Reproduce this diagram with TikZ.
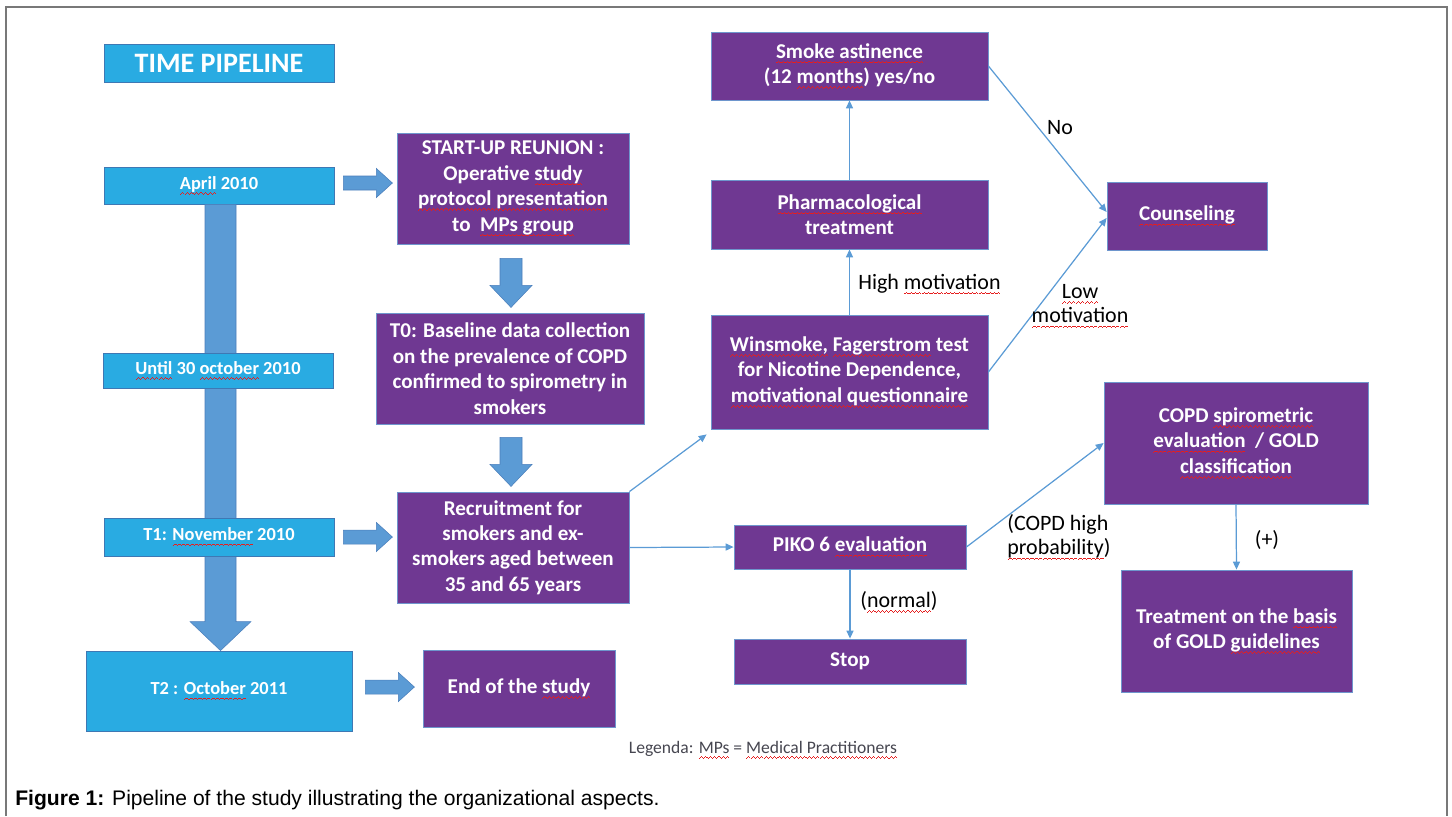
\documentclass[tikz,border=0pt]{standalone}
\usepackage{fontspec}
\setmainfont{Carlito}
\newfontfamily\capfont{Liberation Sans}
\usetikzlibrary{arrows.meta,calc}

\definecolor{pipecyan}{RGB}{41,171,226}
\definecolor{pipeedge}{RGB}{62,120,180}
\definecolor{pipepurple}{RGB}{111,56,146}
\definecolor{purpleedge}{RGB}{110,150,205}
\definecolor{blockblue}{RGB}{91,155,213}
\definecolor{blockedge}{RGB}{74,126,187}
\definecolor{linkblue}{RGB}{91,155,213}
\definecolor{framegray}{RGB}{120,120,120}
\definecolor{legendgray}{RGB}{70,70,80}
\definecolor{wavered}{RGB}{230,30,30}

% red spell-check wave under a word (made of small rules)
\newbox\sqbox
\newcommand\wavebit{\rule[-3.0pt]{0.6pt}{0.5pt}\rule[-2.55pt]{0.6pt}{0.5pt}\rule[-2.1pt]{0.6pt}{0.5pt}\rule[-2.55pt]{0.6pt}{0.5pt}}
\newcommand\sq[1]{\setbox\sqbox=\hbox{#1}\rlap{\textcolor{wavered}{\hbox to\wd\sqbox{\xleaders\hbox{\wavebit}\hfil}}}\box\sqbox}

% block arrows
\newcommand{\rightblock}[1]{\filldraw[blockarrow] #1 +(0,-7) -- +(33,-7) -- +(33,-14.5) -- +(49,0) -- +(33,14.5) -- +(33,7) -- +(0,7) -- cycle;}
\newcommand{\downblock}[1]{\filldraw[blockarrow] #1 +(-11,0) -- +(11,0) -- +(11,27) -- +(21,27) -- +(0,49) -- +(-21,27) -- +(-11,27) -- cycle;}

\tikzset{
  datebox/.style={fill=pipecyan, draw=pipeedge, line width=0.5pt, text=white,
    font=\bfseries\fontsize{10.5}{12.5}\selectfont, inner sep=0pt},
  stepbox/.style={fill=pipepurple, draw=purpleedge, line width=0.5pt, text=white,
    font=\bfseries\fontsize{12}{14.5}\selectfont, align=center, inner sep=0pt},
  link/.style={draw=linkblue, line width=0.7pt, -{Triangle[length=4.5pt,width=4pt]}},
  linklabel/.style={font=\fontsize{12.5}{14}\selectfont, text=black, inner sep=0pt},
  blockarrow/.style={fill=blockblue, draw=blockedge, line width=0.3pt},
}

\begin{document}
\begin{tikzpicture}[x=0.02cm, y=-0.02cm]
\useasboundingbox (0,0) rectangle (1452,816);
\draw[framegray, line width=0.9pt] (6,816) -- (6,7) -- (1447,7) -- (1447,816);

% time line
\node[datebox, minimum width=4.6cm, minimum height=0.76cm, font=\bfseries\fontsize{16}{18}\selectfont] (title) at (219,63) {TIME PIPELINE};
\node[datebox, minimum width=4.6cm, minimum height=0.74cm] (april) at (219,185.5) {\sq{April} 2010};
\node[datebox, minimum width=5.32cm, minimum height=1.6cm] (ttwo) at (219,691) {T2 : \sq{October} 2011};
\filldraw[blockarrow] ($(april.south)+(-14,0)$) -- ($(april.south)+(17,0)$) -- ($(ttwo.north)+(17,-29)$) -- ($(ttwo.north)+(32,-29)$)
  -- ($(ttwo.north)+(1.5,0)$) -- ($(ttwo.north)+(-29,-29)$) -- ($(ttwo.north)+(-14,-29)$) -- cycle;
\node[datebox, minimum width=4.6cm, minimum height=0.7cm] (until) at (218,370.5) {\sq{Until} 30 \sq{october} 2010};
\node[datebox, minimum width=4.6cm, minimum height=0.76cm] (tone) at (219,537) {T1: \sq{November} 2010};

% study steps
\node[stepbox, minimum width=4.64cm, minimum height=2.22cm] (startup) at (513,188.5) {START-UP REUNION :\\Operative \sq{study}\\\sq{protocol presentation}\\to \ \sq{MPs group}};
\node[stepbox, minimum width=5.36cm, minimum height=2.22cm] (baseline) at (510,368.5) {T0: Baseline data collection\\on the prevalence of COPD\\confirmed to spirometry in\\smokers};
\node[stepbox, minimum width=4.64cm, minimum height=2.22cm] (recruit) at (513,547.5) {Recruitment for\\smokers and ex-\\smokers aged between\\35 and 65 years};
\node[stepbox, minimum width=3.84cm, minimum height=1.54cm] (endstudy) at (519,688.5) {End of the \sq{study}};

\rightblock{($(april.east)+(9,-2.5)$)}
\rightblock{($(tone.east)+(9,0)$)}
\rightblock{($(ttwo.east)+(13,-4)$)}
\downblock{($(startup.south)+(-2,14)$)}
\downblock{($(baseline.south)+(1,13)$)}

\node[stepbox, minimum width=5.54cm, minimum height=1.36cm] (abstain) at (849.5,66) {\sq{Smoke astinence}\\(12 \sq{months}) yes/no};
\node[stepbox, minimum width=5.54cm, minimum height=1.38cm] (pharma) at (849.5,214.5) {\sq{Pharmacological}\\treatment};
\node[stepbox, minimum width=5.54cm, minimum height=2.28cm] (winsmoke) at (849.5,372) {\sq{Winsmoke,} \sq{Fagerstrom} test\\for Nicotine Dependence,\\\sq{motivational questionnaire}};
\node[stepbox, minimum width=4.64cm, minimum height=0.88cm] (piko) at (850,547) {PIKO 6 \sq{evaluation}};
\node[stepbox, minimum width=4.64cm, minimum height=0.9cm] (stop) at (850,661.5) {Stop};
\node[stepbox, minimum width=3.2cm, minimum height=1.36cm] (counsel) at (1187,216) {\sq{Counseling}};
\node[stepbox, minimum width=5.28cm, minimum height=2.44cm] (spiro) at (1236,443) {COPD \sq{spirometric}\\\sq{evaluation} \ / GOLD\\\sq{classification}};
\node[stepbox, minimum width=4.62cm, minimum height=2.44cm] (gold) at (1236.5,631) {Treatment on the \sq{basis}\\of GOLD \sq{guidelines}};

% connectors
\draw[link] (pharma.north) -- (abstain.south);
\draw[link] (winsmoke.north) -- (pharma.south);
\draw[link] (abstain.east) -- ($(counsel.west)+(0,-4)$);
\draw[link] (winsmoke.east) -- ($(counsel.west)+(0,2)$);
\draw[link] (recruit.north east) -- ($(winsmoke.south west)+(-4,5)$);
\draw[link] (recruit.east) -- (piko.west);
\draw[link] (piko.east) -- (spiro.west);
\draw[link] (piko.south) -- (stop.north);
\draw[link] (spiro.south) -- (gold.north);

% labels
\node[linklabel] (nolbl) at (1060,128) {No};
\node[linklabel, anchor=west] (highlbl) at (858,284) {High \sq{motivation}};
\node[linklabel, align=center] (lowlbl) at (1080,306) {\sq{Low}\\\sq{motivation}};
\node[linklabel, align=left, anchor=west] (copdlbl) at (1007,537) {(COPD high\\\sq{probability})};
\node[linklabel, anchor=west] (normlbl) at (860,602) {(\sq{normal})};
\node[linklabel] (pluslbl) at (1267,540) {(+)};

\node[font=\fontsize{10}{12}\selectfont, text=legendgray] (legend) at (763,750) {Legenda: \sq{MPs} = \sq{Medical Practitioners}};
\node[font=\capfont\fontsize{12}{14}\selectfont, anchor=base west, inner sep=0pt] (caption) at (15,805) {\textbf{Figure 1:} Pipeline of the study illustrating the organizational aspects.};
\end{tikzpicture}
\end{document}
